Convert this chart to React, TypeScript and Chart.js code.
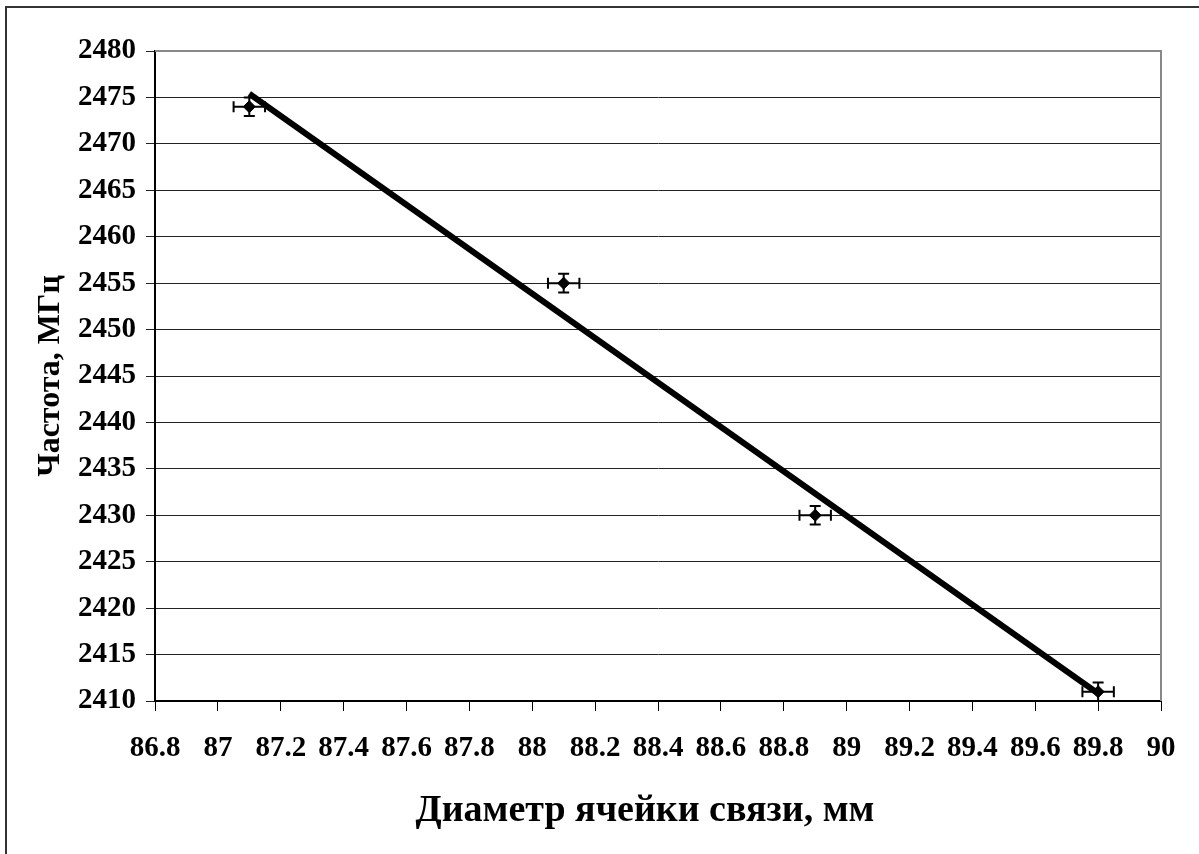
import React, { useEffect, useRef } from "react";
import { Chart, registerables } from "chart.js";

Chart.register(...registerables);

const diameters = [87.1, 88.1, 88.9, 89.8];
const frequencies = [2474, 2455, 2430, 2411];
const xErrors = [0.05, 0.05, 0.05, 0.05];
const yErrors = [1, 1, 1, 1];
const trendX = [87.1, 89.8];
const trendY = [2475.4, 2410.8];
const xTickLabels = ["86.8", "87", "87.2", "87.4", "87.6", "87.8", "88", "88.2", "88.4", "88.6", "88.8", "89", "89.2", "89.4", "89.6", "89.8", "90"];
const yTickLabels = ["2410", "2415", "2420", "2425", "2430", "2435", "2440", "2445", "2450", "2455", "2460", "2465", "2470", "2475", "2480"];
const xTitle = "Диаметр ячейки связи, мм";
const yTitle = "Частота, МГц";

const FONT = "'Liberation Serif', 'Times New Roman', serif";

const framePlugin = {
  id: "frame",
  beforeDraw(chart: any) {
    const { ctx, width, height } = chart;
    ctx.save();
    ctx.fillStyle = "#fff";
    ctx.fillRect(0, 0, width, height);
    ctx.strokeStyle = "#333";
    ctx.lineWidth = 2;
    ctx.beginPath();
    ctx.moveTo(6, height);
    ctx.lineTo(6, 7);
    ctx.lineTo(width, 7);
    ctx.stroke();
    ctx.restore();
  },
  beforeDatasetsDraw(chart: any) {
    const { ctx, chartArea } = chart;
    const x = chart.scales.x;
    const y = chart.scales.y;
    ctx.save();
    ctx.strokeStyle = "#888";
    ctx.lineWidth = 2;
    ctx.beginPath();
    ctx.moveTo(chartArea.left, chartArea.top);
    ctx.lineTo(chartArea.right, chartArea.top);
    ctx.lineTo(chartArea.right, chartArea.bottom);
    ctx.stroke();
    ctx.strokeStyle = "#000";
    ctx.lineWidth = 2;
    const cap = 5.5;
    for (let i = 0; i < diameters.length; i++) {
      const px = x.getPixelForValue(diameters[i]);
      const py = y.getPixelForValue(frequencies[i]);
      const xl = x.getPixelForValue(diameters[i] - xErrors[i]);
      const xr = x.getPixelForValue(diameters[i] + xErrors[i]);
      const yt = y.getPixelForValue(frequencies[i] + yErrors[i]);
      const yb = y.getPixelForValue(frequencies[i] - yErrors[i]);
      ctx.beginPath();
      ctx.moveTo(xl, py); ctx.lineTo(xr, py);
      ctx.moveTo(xl, py - cap); ctx.lineTo(xl, py + cap);
      ctx.moveTo(xr, py - cap); ctx.lineTo(xr, py + cap);
      ctx.moveTo(px, yt); ctx.lineTo(px, yb);
      ctx.moveTo(px - cap, yt); ctx.lineTo(px + cap, yt);
      ctx.moveTo(px - cap, yb); ctx.lineTo(px + cap, yb);
      ctx.stroke();
    }
    ctx.restore();
  },
  afterDraw(chart: any) {
    const { ctx, chartArea } = chart;
    ctx.save();
    ctx.fillStyle = "#000";
    ctx.font = `bold 38px ${FONT}`;
    ctx.textAlign = "center";
    ctx.textBaseline = "alphabetic";
    ctx.fillText(xTitle, 645, 821);
    ctx.translate(59, (chartArea.top + chartArea.bottom) / 2);
    ctx.rotate(-Math.PI / 2);
    ctx.font = `bold 32px ${FONT}`;
    ctx.fillText(yTitle, 0, 0);
    ctx.restore();
  },
};

export default function App() {
  const ref = useRef<HTMLCanvasElement | null>(null);
  useEffect(() => {
    if (!ref.current) return;
    const chart = new Chart(ref.current, {
      type: "scatter",
      data: {
        datasets: [
          {
            label: "trend",
            data: trendX.map((v, i) => ({ x: v, y: trendY[i] })),
            showLine: true,
            borderColor: "#000",
            borderWidth: 6,
            pointRadius: 0,
            borderCapStyle: "butt",
          } as any,
          {
            label: "data",
            data: diameters.map((v, i) => ({ x: v, y: frequencies[i] })),
            pointStyle: "rectRot",
            pointRadius: 6,
            backgroundColor: "#000",
            borderColor: "#000",
            borderWidth: 1,
            showLine: false,
          },
        ],
      },
      plugins: [framePlugin],
      options: {
        responsive: false,
        animation: false,
        layout: { padding: { left: 0, right: 38, top: 51, bottom: 0 } },
        plugins: { legend: { display: false }, tooltip: { enabled: false } },
        scales: {
          x: {
            type: "linear",
            min: 86.8,
            max: 90,
            afterBuildTicks: (axis: any) => {
              axis.ticks = xTickLabels.map((t) => ({ value: parseFloat(t) }));
            },
            afterFit: (axis: any) => {
              axis.height = 153;
            },
            ticks: {
              callback: (_v: any, i: number) => xTickLabels[i],
              font: { family: FONT, size: 29, weight: "bold" },
              color: "#000",
              padding: 20,
              maxRotation: 0,
              autoSkip: false,
            },
            grid: { drawOnChartArea: false, drawTicks: true, tickLength: 10, color: "#000", lineWidth: 1 },
            border: { color: "#000", width: 2 },
          },
          y: {
            type: "linear",
            min: 2410,
            max: 2480,
            afterBuildTicks: (axis: any) => {
              axis.ticks = yTickLabels.map((t) => ({ value: parseFloat(t) }));
            },
            afterFit: (axis: any) => {
              axis.width = 155;
            },
            ticks: {
              callback: (_v: any, i: number) => yTickLabels[i],
              font: { family: FONT, size: 29, weight: "bold" },
              color: "#000",
              padding: 10,
              autoSkip: false,
            },
            grid: { color: "#222", lineWidth: 1, tickLength: 9 },
            border: { color: "#000", width: 2 },
          },
        },
      },
    } as any);
    return () => chart.destroy();
  }, []);
  return (
    <div style={{ position: "fixed", left: 0, top: 0, width: 1199, height: 854, background: "#fff" }}>
      <canvas ref={ref} width={1199} height={854} style={{ display: "block" }} />
    </div>
  );
}
